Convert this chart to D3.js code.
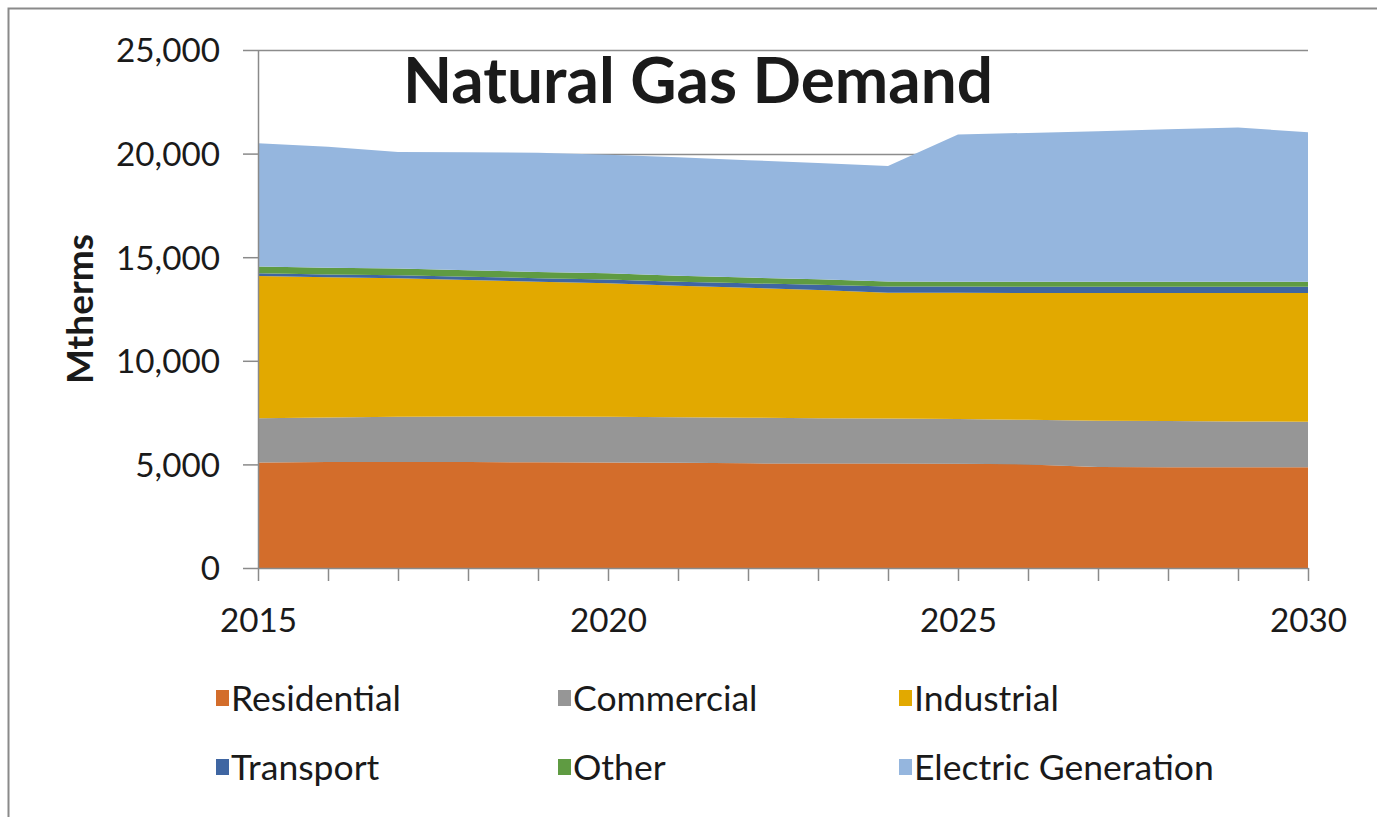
<!DOCTYPE html>
<html>
<head>
<meta charset="utf-8">
<script src="https://cdn.jsdelivr.net/npm/d3@7/dist/d3.min.js"></script>
<style>
  html, body { margin: 0; padding: 0; background: #ffffff; }
  svg { display: block; }
  text { font-family: Lato, "Open Sans", sans-serif; fill: #1a1a1a; }
</style>
</head>
<body>
<svg id="chart" width="1377" height="817"></svg>
<script>
// Natural gas demand by sector, Mtherms
const years = [2015, 2016, 2017, 2018, 2019, 2020, 2021, 2022, 2023, 2024, 2025, 2026, 2027, 2028, 2029, 2030];
const residential = [5090, 5110, 5110, 5110, 5100, 5090, 5080, 5050, 5040, 5040, 5030, 5000, 4870, 4860, 4860, 4860];
const commercial  = [2135, 2150, 2190, 2200, 2210, 2210, 2200, 2200, 2190, 2170, 2160, 2150, 2240, 2230, 2210, 2200];
const industrial  = [6865, 6770, 6680, 6590, 6510, 6440, 6340, 6270, 6190, 6080, 6090, 6120, 6160, 6180, 6200, 6210];
const transport   = [130, 140, 150, 160, 170, 180, 200, 220, 250, 290, 300, 300, 300, 300, 300, 300];
const other       = [330, 320, 320, 310, 300, 300, 290, 280, 260, 250, 240, 240, 240, 240, 240, 240];
const electricGen = [5950, 5840, 5630, 5690, 5750, 5730, 5710, 5660, 5620, 5570, 7100, 7190, 7270, 7370, 7450, 7220];

const seriesNames = ["Residential", "Commercial", "Industrial", "Transport", "Other", "Electric Generation"];
const seriesColors = ["#d36d2b", "#969696", "#e2a900", "#3f66a2", "#5f9b42", "#95b6de"];
const yTicks = [0, 5000, 10000, 15000, 20000, 25000];
const xLabelYears = [2015, 2020, 2025, 2030];
const chartTitle = "Natural Gas Demand";
const yTitle = "Mtherms";

const table = years.map((yr, i) => ({
  year: yr,
  "Residential": residential[i],
  "Commercial": commercial[i],
  "Industrial": industrial[i],
  "Transport": transport[i],
  "Other": other[i],
  "Electric Generation": electricGen[i]
}));

const svg = d3.select("#chart");
const color = d3.scaleOrdinal(seriesNames, seriesColors);

const x = d3.scaleLinear().domain([2015, 2030]).range([258, 1308]);
const y = d3.scaleLinear().domain([0, 25000]).range([568, 50]);

// outer chart frame (top and left edges fall inside the page)
svg.append("path")
  .attr("d", "M8.5,817 L8.5,8.5 L1377,8.5")
  .attr("fill", "none")
  .attr("stroke", "#8a8a8a")
  .attr("stroke-width", 2);

// fits a text element to a given width by adjusting its font size
function fitSize(sample, weight, width) {
  const t = svg.append("text").attr("font-size", 100).attr("font-weight", weight).text(sample);
  const w = t.node().getComputedTextLength();
  t.remove();
  return 100 * width / w;
}

// horizontal gridlines
svg.append("g")
  .selectAll("line")
  .data(yTicks.filter(d => d > 0))
  .join("line")
  .attr("x1", x(2015)).attr("x2", x(2030))
  .attr("y1", d => Math.round(y(d)) + 0.5).attr("y2", d => Math.round(y(d)) + 0.5)
  .attr("stroke", "#8c8c8c")
  .attr("stroke-width", 1.5);

// stacked areas
const stack = d3.stack().keys(seriesNames);
const layers = stack(table);
const area = d3.area()
  .x(d => x(d.data.year))
  .y0(d => y(d[0]))
  .y1(d => y(d[1]));

svg.append("g")
  .selectAll("path")
  .data(layers)
  .join("path")
  .attr("d", area)
  .attr("fill", d => color(d.key));

// y axis
const tickSize = fitSize("15,000", 400, 104);
const yAxis = d3.axisLeft(y)
  .tickValues(yTicks)
  .tickFormat(d3.format(","))
  .tickSizeInner(15)
  .tickSizeOuter(0)
  .tickPadding(23);
const gy = svg.append("g").attr("transform", "translate(258,0)").call(yAxis);
gy.select(".domain").attr("stroke", "#8a8a8a").attr("stroke-width", 1.5);
gy.selectAll(".tick line").attr("stroke", "#8a8a8a").attr("stroke-width", 1.5);
gy.selectAll(".tick text")
  .attr("font-family", "Lato, 'Open Sans', sans-serif")
  .attr("font-size", tickSize)
  .attr("fill", "#262626")
  .attr("dy", "0.36em");

// x axis: a tick every year, labels every five years
const xAxis = d3.axisBottom(x)
  .tickValues(years)
  .tickFormat(d => xLabelYears.includes(d) ? String(d) : "")
  .tickSizeInner(13)
  .tickSizeOuter(0)
  .tickPadding(28);
const gx = svg.append("g").attr("transform", "translate(0,568)").call(xAxis);
gx.select(".domain").attr("stroke", "#8a8a8a").attr("stroke-width", 1.5);
gx.selectAll(".tick line").attr("stroke", "#8a8a8a").attr("stroke-width", 1.5);
gx.selectAll(".tick text")
  .attr("font-family", "Lato, 'Open Sans', sans-serif")
  .attr("font-size", tickSize)
  .attr("fill", "#262626")
  .attr("y", 0)
  .attr("dy", 0)
  .attr("transform", "translate(0,64)");

// axis title
const ySize = fitSize(yTitle, 700, 150);
svg.append("text")
  .attr("transform", "translate(93,309) rotate(-90)")
  .attr("text-anchor", "middle")
  .attr("font-size", ySize)
  .attr("font-weight", 700)
  .attr("fill", "#111")
  .text(yTitle);

// chart title
const titleSize = fitSize(chartTitle, 700, 590);
svg.append("text")
  .attr("x", 403)
  .attr("y", 103)
  .attr("font-size", titleSize)
  .attr("font-weight", 700)
  .attr("fill", "#0d0d0d")
  .text(chartTitle);

// legend, two rows of three
const legendSize = fitSize("Residential", 400, 170);
const colX = [216, 558, 899];
const rowY = [711, 780];
const legend = svg.append("g")
  .selectAll("g")
  .data(seriesNames)
  .join("g")
  .attr("transform", (d, i) => `translate(${colX[i % 3]},${rowY[Math.floor(i / 3)]})`);
legend.append("rect")
  .attr("x", 0).attr("y", -21)
  .attr("width", 13).attr("height", 16)
  .attr("fill", d => color(d));
legend.append("text")
  .attr("x", 15)
  .attr("y", 0)
  .attr("font-size", legendSize)
  .attr("fill", "#1a1a1a")
  .text(d => d);
</script>
</body>
</html>
